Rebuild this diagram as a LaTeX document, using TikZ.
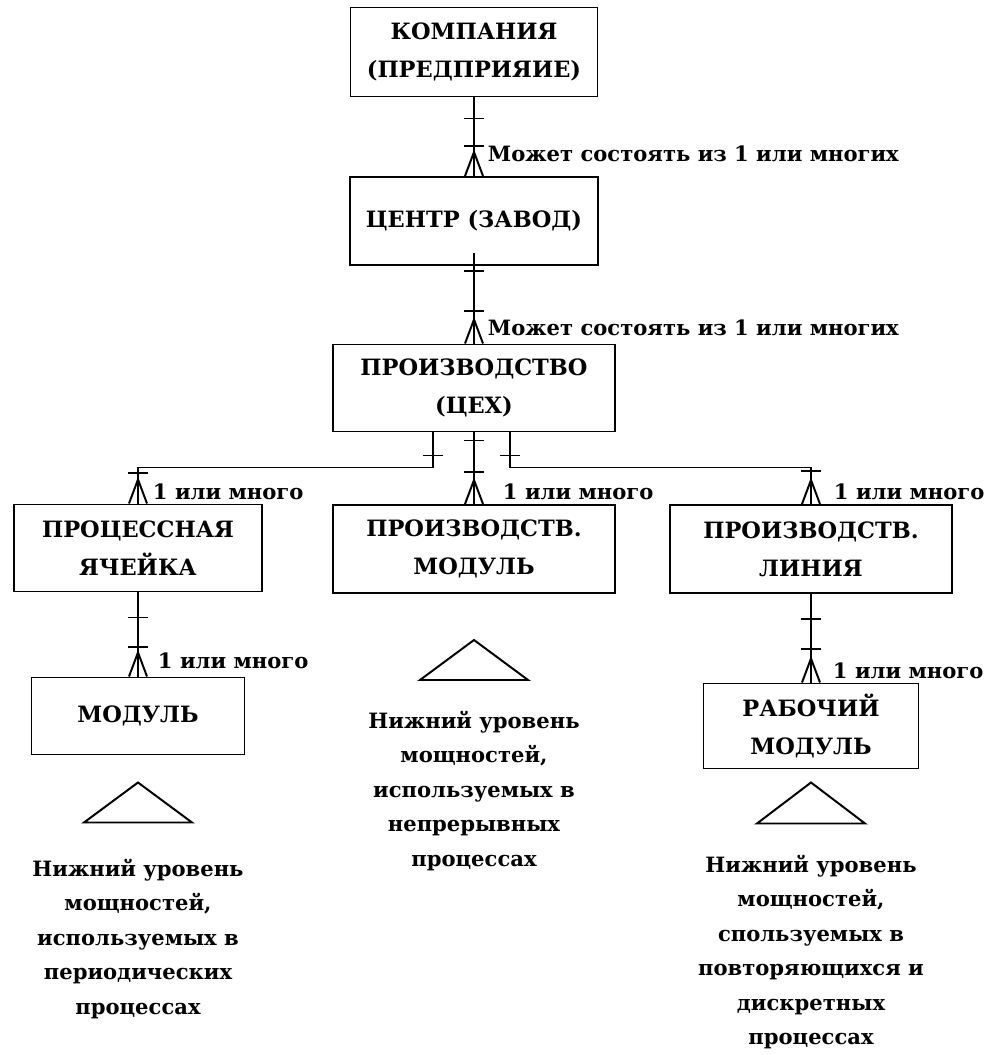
\documentclass[tikz,border=0pt]{standalone}
\usepackage{fontspec}
\setmainfont{DejaVu Serif}
\usepackage{tikz}
\usetikzlibrary{calc}

% ER marks: a bar across the line, and a crow's foot on a box top
\newcommand{\tickmark}[1]{\draw (#1) ++(-10,0) -- ++(20,0);}
\newcommand{\crowfoot}[1]{\draw (#1) ++(-9,0) -- ++(9,-24) -- ++(9,24);}

\begin{document}
\begin{tikzpicture}[x=0.025cm, y=-0.025cm, line width=1.4pt,
  every node/.style={align=center, font=\bfseries},
  ent/.style={draw, inner sep=0pt, font=\bfseries\fontsize{16}{27}\selectfont},
  card/.style={anchor=west, inner sep=0pt, font=\bfseries\fontsize{15}{18}\selectfont},
  note/.style={inner sep=0pt, font=\bfseries\fontsize{15}{24.5}\selectfont}]
\useasboundingbox (0,0) rectangle (984,1055);

\node[ent, minimum width=247*0.025cm, minimum height=89*0.025cm] (comp) at (474,52) {КОМПАНИЯ\\(ПРЕДПРИЯИЕ)};
\node[ent, minimum width=248*0.025cm, minimum height=88*0.025cm] (plant) at (474,221) {ЦЕНТР (ЗАВОД)};
\node[ent, minimum width=282*0.025cm, minimum height=87*0.025cm] (shop) at (474,388) {ПРОИЗВОДСТВО\\(ЦЕХ)};
\node[ent, minimum width=248*0.025cm, minimum height=87*0.025cm] (cell) at (138,548) {ПРОЦЕССНАЯ\\ЯЧЕЙКА};
\node[ent, minimum width=282*0.025cm, minimum height=88*0.025cm] (pmod) at (474,549) {ПРОИЗВОДСТВ.\\МОДУЛЬ};
\node[ent, minimum width=282*0.025cm, minimum height=88*0.025cm] (pline) at (811,549) {ПРОИЗВОДСТВ.\\ЛИНИЯ};
\node[ent, minimum width=213*0.025cm, minimum height=77*0.025cm] (mod) at (138,716) {МОДУЛЬ};
\node[ent, minimum width=215*0.025cm, minimum height=85*0.025cm] (wmod) at (811,726) {РАБОЧИЙ\\МОДУЛЬ};

% company -> plant
\draw (comp.south) -- (plant.north);
\tickmark{$(comp.south)+(0,21)$} \tickmark{$(plant.north)+(0,-30)$} \crowfoot{plant.north}
\node[card] (l1) at ($(plant.north)+(13,-22)$) {Может состоять из 1 или многих};

% plant -> shop
\draw ($(plant.south)+(0,-13)$) -- (shop.north);
\tickmark{$(plant.south)+(0,5)$} \tickmark{$(shop.north)+(0,-33)$} \crowfoot{shop.north}
\node[card] (l2) at ($(shop.north)+(13,-16)$) {Может состоять из 1 или многих};

% shop -> cell, module, line
\draw ($(shop.south)+(-41,0)$) -- ++(0,35) -| (cell.north);
\draw (shop.south) -- (pmod.north);
\draw ($(shop.south)+(36,0)$) -- ++(0,35) -| (pline.north);
\tickmark{$(shop.south)+(-41,23)$} \tickmark{$(cell.north)+(0,-31)$} \crowfoot{cell.north}
\tickmark{$(shop.south)+(0,8)$} \tickmark{$(pmod.north)+(0,-32)$} \crowfoot{pmod.north}
\tickmark{$(shop.south)+(36,23)$} \tickmark{$(pline.north)+(0,-33)$} \crowfoot{pline.north}
\node[card] (l3) at ($(cell.north)+(14,-12)$) {1 или много};
\node[card] (l4) at ($(pmod.north)+(28,-12)$) {1 или много};
\node[card] (l5) at ($(pline.north)+(22,-12)$) {1 или много};

% lower levels
\draw (cell.south) -- (mod.north);
\tickmark{$(cell.south)+(0,25)$} \tickmark{$(mod.north)+(0,-30)$} \crowfoot{mod.north}
\node[card] (l6) at ($(mod.north)+(19,-16)$) {1 или много};
\draw (pline.south) -- (wmod.north);
\tickmark{$(pline.south)+(0,25)$} \tickmark{$(wmod.north)+(0,-34)$} \crowfoot{wmod.north}
\node[card] (l7) at ($(wmod.north)+(21,-12)$) {1 или много};

% triangles and notes
\draw ($(mod.south)+(-54,67)$) -- ++(54,-40) -- ++(54,40) -- cycle;
\draw ($(pmod.south)+(-54,86)$) -- ++(54,-40) -- ++(54,40) -- cycle;
\draw ($(wmod.south)+(-54,54)$) -- ++(54,-41) -- ++(54,41) -- cycle;
\node[note] (n1) at (138,939) {Нижний уровень\\мощностей,\\используемых в\\периодических\\процессах};
\node[note] (n2) at (474,791) {Нижний уровень\\мощностей,\\используемых в\\непрерывных\\процессах};
\node[note] (n3) at (811,952) {Нижний уровень\\мощностей,\\спользуемых в\\повторяющихся и\\дискретных\\процессах};
\end{tikzpicture}
\end{document}
